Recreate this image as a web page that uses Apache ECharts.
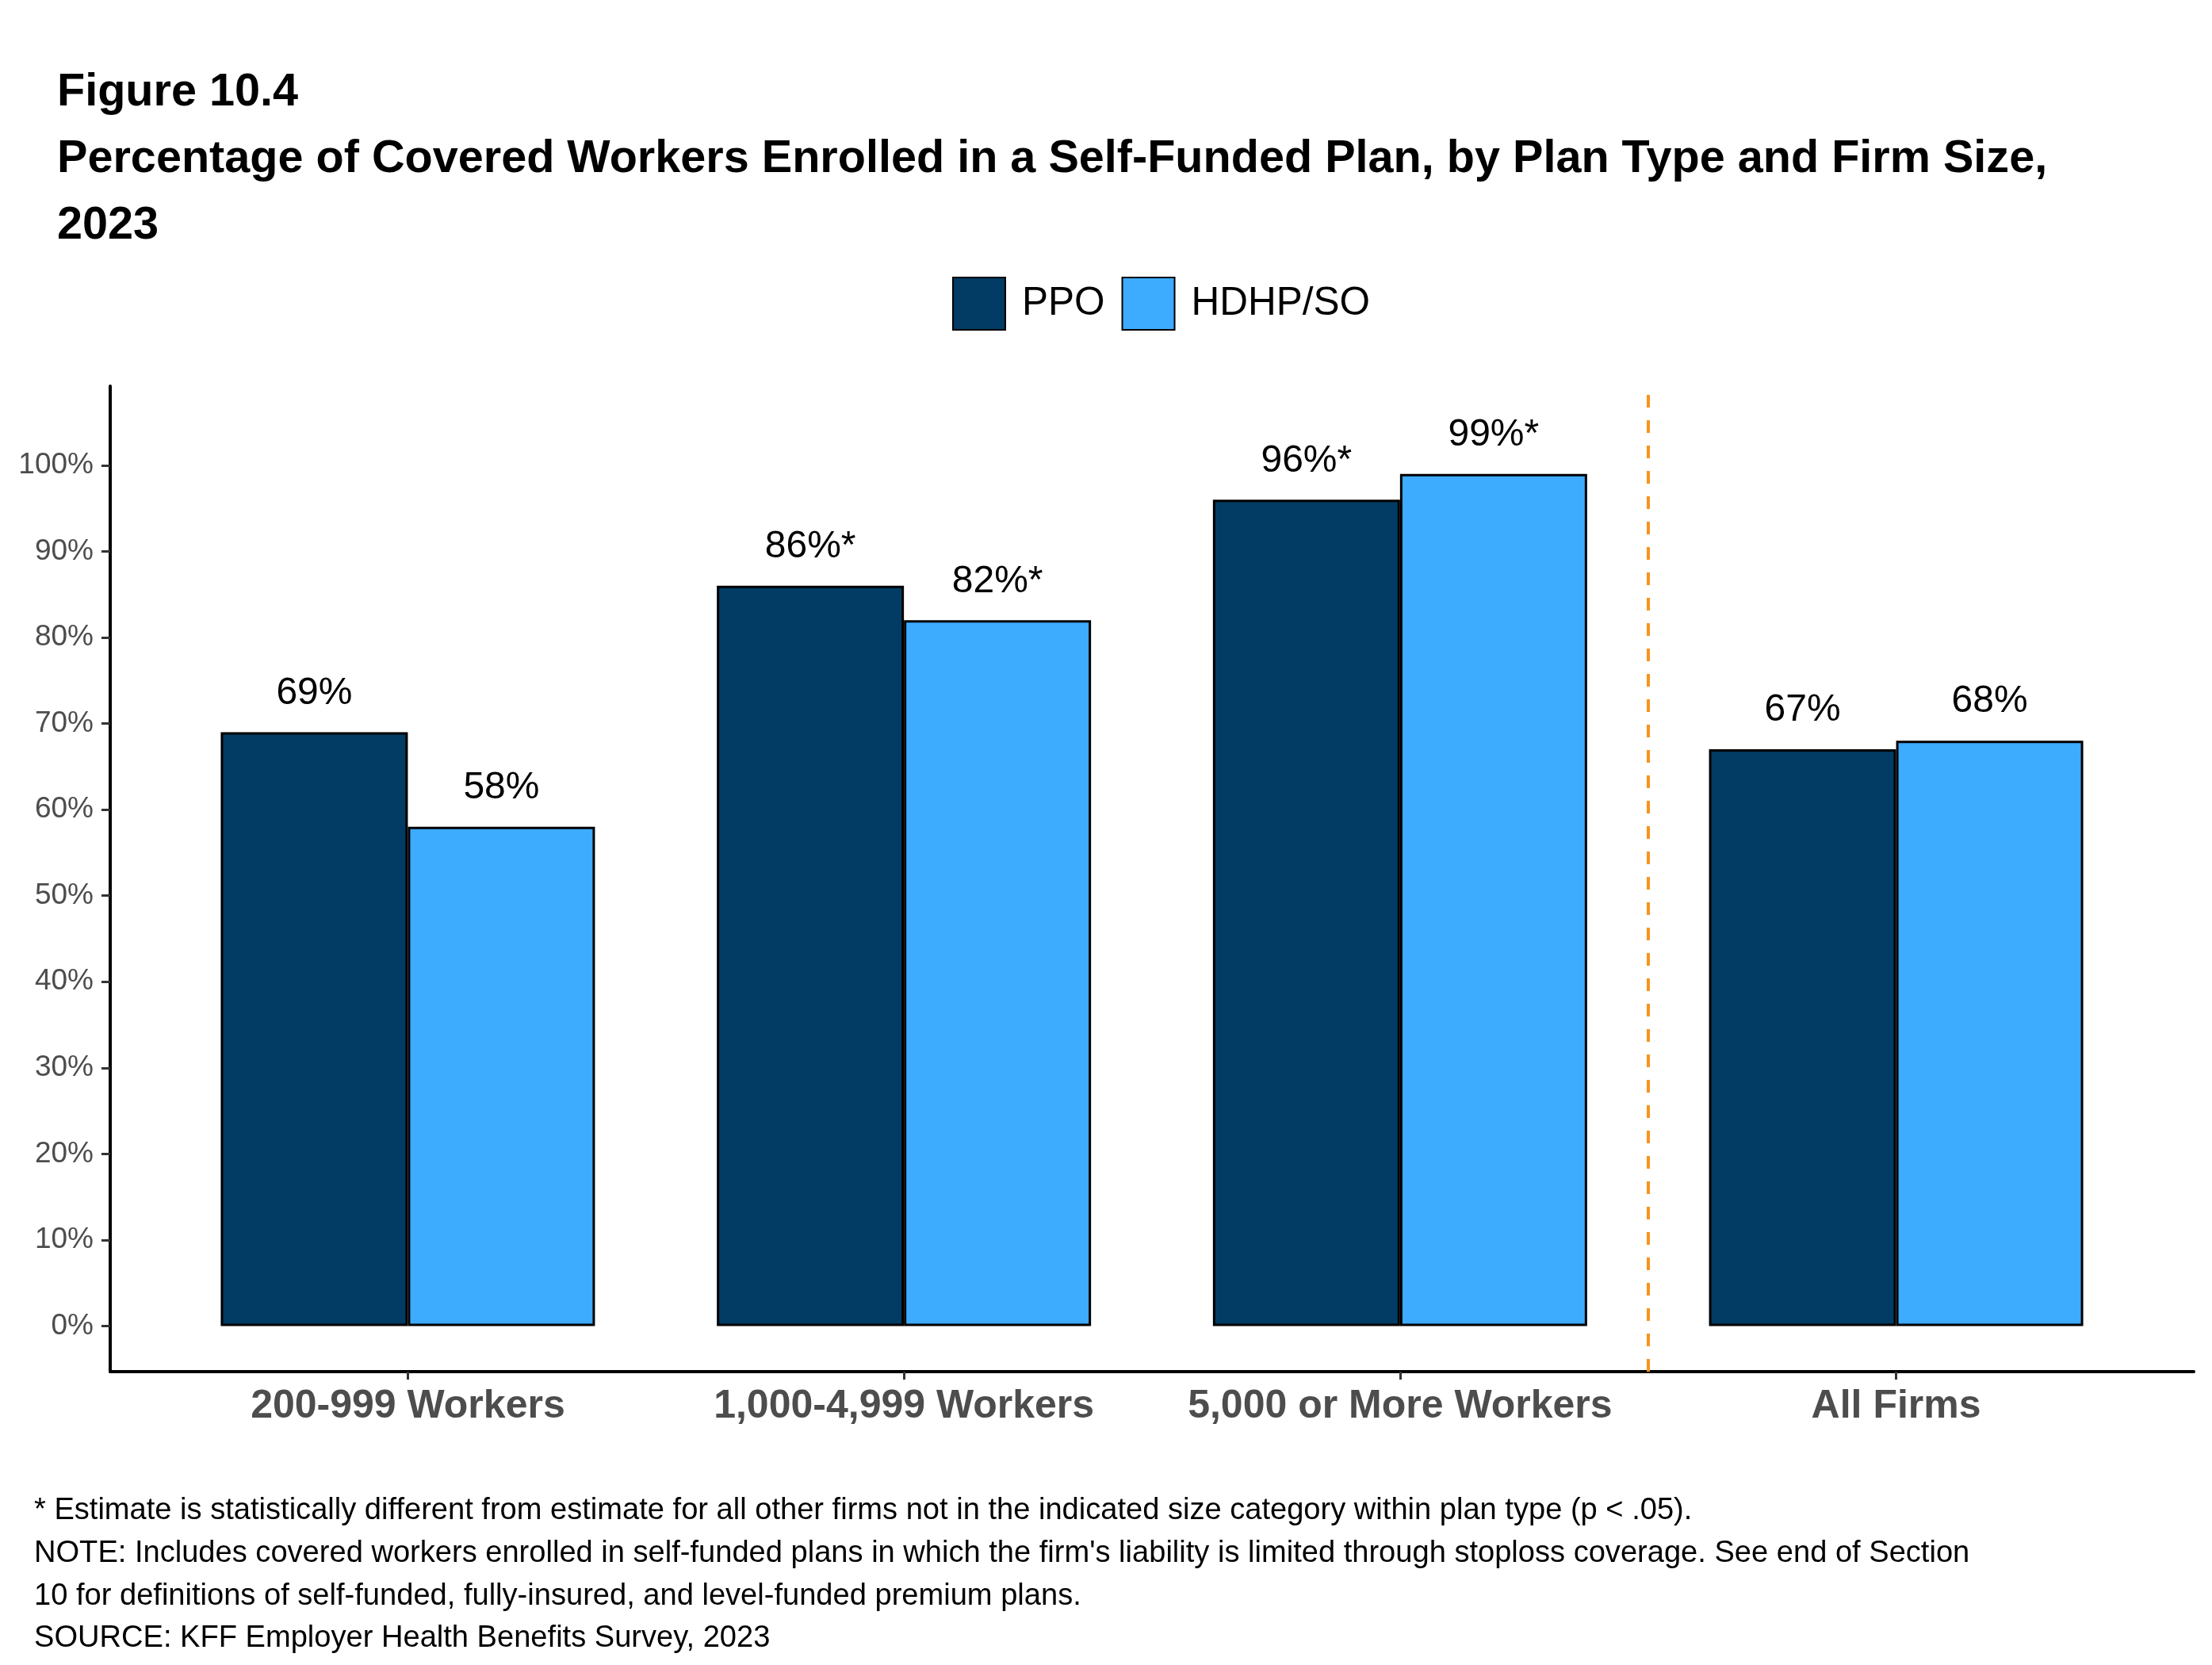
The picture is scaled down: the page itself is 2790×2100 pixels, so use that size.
<!DOCTYPE html>
<html>
<head>
<meta charset="utf-8">
<script src="https://cdn.jsdelivr.net/npm/echarts@6/dist/echarts.min.js"></script>
<style>
html,body{margin:0;padding:0;background:#fff;}
#chart{width:2790px;height:2100px;}
</style>
</head>
<body>
<div id="chart"></div>
<script>
const categories = ['200-999 Workers', '1,000-4,999 Workers', '5,000 or More Workers', 'All Firms'];
const seriesNames = ['PPO', 'HDHP/SO'];
const ppoValues = [69, 86, 96, 67];
const hdhpValues = [58, 82, 99, 68];
const ppoLabels = ['69%', '86%*', '96%*', '67%'];
const hdhpLabels = ['58%', '82%*', '99%*', '68%'];
const yTicks = [0, 10, 20, 30, 40, 50, 60, 70, 80, 90, 100];
const dividerAt = 3.5;
const titleLines = ['Figure 10.4', 'Percentage of Covered Workers Enrolled in a Self-Funded Plan, by Plan Type and Firm Size,', '2023'];
const noteLines = [
  '* Estimate is statistically different from estimate for all other firms not in the indicated size category within plan type (p < .05).',
  "NOTE: Includes covered workers enrolled in self-funded plans in which the firm's liability is limited through stoploss coverage. See end of Section",
  '10 for definitions of self-funded, fully-insured, and level-funded premium plans.',
  'SOURCE: KFF Employer Health Benefits Survey, 2023'
];

const FONT = 'Liberation Sans, Arial, Helvetica, sans-serif';
const positions = categories.map((c, i) => i + 1);

const chart = echarts.init(document.getElementById('chart'), null, {renderer: 'canvas'});

function barSeries(name, values, labels, color) {
  return {
    name: name,
    type: 'bar',
    barWidth: 236,
    barGap: '0%',
    data: values.map((v, i) => [positions[i], v]),
    itemStyle: {color: color, borderColor: '#000', borderWidth: 3},
    label: {
      show: true,
      position: 'top',
      distance: 25,
      formatter: p => labels[p.dataIndex],
      fontFamily: FONT,
      fontSize: 48,
      color: '#000'
    },
    emphasis: {disabled: true},
    animation: false
  };
}

chart.setOption({
  backgroundColor: '#fff',
  animation: false,
  title: [
    {
      text: titleLines.join('\n'),
      left: 72,
      top: 75,
      padding: 0,
      textStyle: {fontFamily: FONT, fontSize: 57.6, fontWeight: 'bold', color: '#000', lineHeight: 84}
    },
    {
      text: noteLines.join('\n'),
      left: 43,
      top: 1879,
      padding: 0,
      textStyle: {fontFamily: FONT, fontSize: 38.1, fontWeight: 'normal', color: '#000', lineHeight: 53.6}
    }
  ],
  legend: {
    data: seriesNames,
    left: 1201,
    top: 349,
    padding: 0,
    icon: 'rect',
    itemWidth: 66,
    itemHeight: 66,
    itemGap: 21,
    textStyle: {fontFamily: FONT, fontSize: 49.5, color: '#000', padding: [0, 0, 0, 16]},
    selectedMode: false
  },
  grid: {left: 139, right: 23, top: 487, bottom: 370},
  xAxis: {
    type: 'value',
    min: 0.4,
    max: 4.6,
    axisLine: {show: true, onZero: false, lineStyle: {color: '#000', width: 4}},
    axisTick: {show: true, customValues: positions, length: 10, lineStyle: {color: '#333', width: 3}},
    axisLabel: {
      show: true,
      customValues: positions,
      formatter: v => categories[Math.round(v) - 1],
      fontFamily: FONT,
      fontSize: 50,
      fontWeight: 'bold',
      color: '#4D4D4D',
      margin: 19
    },
    splitLine: {show: false}
  },
  yAxis: {
    type: 'value',
    min: -5.3,
    max: 109.2,
    axisLine: {show: true, onZero: false, lineStyle: {color: '#000', width: 4}},
    axisTick: {show: true, customValues: yTicks, length: 11, lineStyle: {color: '#333', width: 3}},
    axisLabel: {
      show: true,
      customValues: yTicks,
      formatter: v => v + '%',
      fontFamily: FONT,
      fontSize: 37,
      color: '#4D4D4D',
      margin: 21
    },
    splitLine: {show: false}
  },
  series: [
    barSeries(seriesNames[0], ppoValues, ppoLabels, '#023B63'),
    barSeries(seriesNames[1], hdhpValues, hdhpLabels, '#3DABFE'),
    {
      name: 'divider',
      type: 'line',
      data: [],
      silent: true,
      animation: false,
      markLine: {
        silent: true,
        symbol: 'none',
        label: {show: false},
        lineStyle: {color: '#F8931D', width: 4, type: [16, 16]},
        data: [{xAxis: dividerAt}],
        animation: false
      }
    }
  ]
});
</script>
</body>
</html>
